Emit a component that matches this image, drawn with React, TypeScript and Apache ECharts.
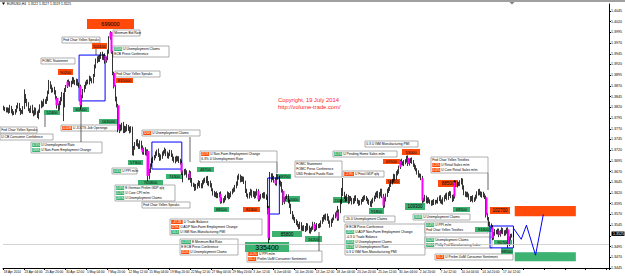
import React, { useEffect, useRef } from "react";
import * as echarts from "echarts";

// ---------- data (prices stored as last 4 digits of 1.xxxx, e.g. 3818 = 1.3818) ----------
const FIRST_OPEN = 3820;
const CLOSES: number[] = [
  3818, 3815, 3812,
  3815, 3810, 3820, 3812, 3805, 3808,
  3812, 3820, 3825, 3815, 3808, 3810,
  3820, 3845, 3835, 3828, 3815, 3812,
  3820, 3810, 3805, 3815, 3808, 3802,
  3812, 3822, 3830, 3825, 3835, 3832,
  3840, 3855, 3875, 3868, 3860, 3862,
  3855, 3842, 3825, 3818, 3830, 3840,
  3850, 3825, 3860, 3868, 3880, 3876,
  3872, 3878, 3885, 3880, 3876, 3882,
  3875, 3870, 3825, 3845, 3860, 3868,
  3875, 3880, 3878, 3888, 3885, 3882,
  3895, 3915, 3928, 3935, 3930, 3938,
  3945, 3935, 3940, 3928, 3935, 3950,
  3982, 3995, 3948, 3900, 3868, 3840,
  3825, 3768, 3775, 3770, 3780, 3765,
  3772, 3768, 3775, 3770, 3765, 3772,
  3712, 3725, 3735, 3740, 3732, 3728,
  3738, 3725, 3715, 3722, 3712, 3718,
  3660, 3672, 3685, 3695, 3700, 3705,
  3712, 3718, 3708, 3700, 3706, 3712,
  3716, 3720, 3712, 3705, 3710, 3715,
  3708, 3700, 3695, 3702, 3698, 3702,
  3695, 3690, 3668, 3665, 3672, 3668,
  3660, 3655, 3668, 3650, 3640, 3638,
  3630, 3635, 3640, 3645, 3638, 3635,
  3645, 3650, 3648, 3655, 3642, 3645,
  3638, 3628, 3620, 3615, 3618, 3612,
  3615, 3618, 3600, 3605, 3602, 3608,
  3612, 3618, 3610, 3615, 3620, 3625,
  3628, 3635, 3642, 3655, 3660, 3650,
  3655, 3652, 3645, 3625, 3615, 3612,
  3618, 3625, 3615, 3620, 3612, 3618,
  3625, 3605, 3610, 3615, 3612, 3618,
  3612, 3608, 3585, 3515, 3650, 3660,
  3655, 3650, 3642, 3660, 3655, 3645,
  3640, 3625, 3598, 3605, 3610, 3612,
  3600, 3590, 3575, 3565, 3560, 3555,
  3550, 3545, 3540, 3548, 3538, 3535,
  3540, 3535, 3545, 3538, 3530, 3535,
  3538, 3548, 3535, 3540, 3545, 3542,
  3545, 3552, 3558, 3565, 3562, 3568,
  3560, 3552, 3545, 3555, 3560, 3565,
  3570, 3575, 3560, 3578, 3600, 3625,
  3618, 3610, 3605, 3612, 3600, 3608,
  3605, 3598, 3602, 3610, 3605, 3600,
  3595, 3598, 3603, 3605, 3610, 3608,
  3605, 3600, 3598, 3592, 3600, 3605,
  3610, 3615, 3620, 3612, 3618, 3625,
  3612, 3590, 3605, 3615, 3625, 3630,
  3638, 3645, 3650, 3660, 3655, 3665,
  3670, 3680, 3695, 3690, 3688, 3692,
  3695, 3702, 3688, 3695, 3698, 3692,
  3685, 3680, 3675, 3668, 3662, 3660,
  3655, 3602, 3605, 3610, 3600, 3605,
  3602, 3598, 3595, 3600, 3597, 3600,
  3600, 3605, 3610, 3602, 3598, 3605,
  3610, 3615, 3608, 3618, 3620, 3612,
  3605, 3612, 3645, 3638, 3642, 3640,
  3645, 3650, 3632, 3620, 3615, 3618,
  3615, 3608, 3605, 3610, 3603, 3606,
  3612, 3618, 3625, 3620, 3615, 3618,
  3615, 3610, 3568, 3560, 3548, 3545,
  3540, 3515, 3525, 3530, 3528, 3532,
  3522, 3530, 3535, 3528, 3525, 3530,
  3535, 3500, 3515, 3520, 3522, 3525,
];
const WICK_UP: number[] = [
  4, 3, 5,
  5, 4, 6, 3, 4, 3,
  4, 5, 6, 5, 3, 4,
  3, 17, 6, 5, 4, 3,
  4, 6, 3, 5, 4, 3,
  3, 5, 6, 4, 5, 4,
  5, 4, 9, 6, 5, 4,
  6, 5, 4, 4, 5, 4,
  6, 4, 5, 4, 4, 5,
  5, 4, 6, 5, 4, 5,
  4, 3, 3, 4, 3, 4,
  5, 4, 5, 6, 4, 3,
  3, 5, 6, 4, 6, 5,
  4, 5, 4, 6, 3, 5,
  4, 3, 1, 4, 3, 4,
  5, 3, 6, 5, 4, 6,
  5, 4, 6, 4, 5, 4,
  3, 5, 4, 5, 6, 4,
  5, 4, 6, 4, 5, 4,
  4, 5, 4, 6, 5, 4,
  5, 3, 6, 5, 4, 5,
  4, 6, 3, 5, 4, 6,
  5, 4, 5, 3, 5, 4,
  4, 5, 6, 5, 4, 5,
  5, 4, 5, 3, 5, 4,
  4, 6, 4, 5, 3, 5,
  5, 4, 6, 4, 5, 3,
  4, 5, 3, 5, 4, 6,
  5, 4, 6, 5, 3, 5,
  4, 6, 4, 5, 4, 5,
  5, 4, 5, 6, 5, 3,
  5, 4, 6, 4, 5, 4,
  4, 5, 3, 5, 4, 6,
  5, 4, 5, 3, 5, 4,
  4, 5, 4, 5, 19, 6,
  6, 5, 6, 5, 4, 5,
  4, 6, 4, 5, 3, 5,
  5, 4, 5, 3, 5, 4,
  4, 5, 3, 5, 4, 6,
  5, 3, 5, 4, 6, 4,
  4, 5, 4, 6, 5, 3,
  5, 4, 6, 4, 5, 4,
  4, 6, 4, 5, 3, 5,
  5, 4, 15, 4, 5, 7,
  30, 5, 4, 6, 4, 5,
  5, 4, 6, 4, 5, 3,
  4, 5, 3, 6, 4, 5,
  5, 4, 5, 3, 5, 4,
  4, 6, 4, 5, 4, 5,
  5, 6, 5, 4, 5, 4,
  4, 5, 3, 5, 4, 6,
  5, 4, 3, 5, 4, 5,
  4, 5, 6, 5, 4, 5,
  5, 4, 5, 3, 5, 4,
  5, 5, 4, 6, 4, 5,
  5, 3, 5, 4, 6, 4,
  4, 5, 4, 5, 3, 5,
  5, 4, 6, 4, 5, 4,
  4, 5, 5, 4, 5, 4,
  5, 5, 4, 6, 4, 5,
  5, 4, 5, 3, 5, 4,
  4, 6, 4, 5, 4, 5,
  5, 4, 4, 5, 4, 5,
  4, 5, 4, 6, 4, 5,
  5, 4, 5, 3, 5, 4,
  4, 5, 4, 5, 3, 5,
];
const WICK_DN: number[] = [
  5, 4, 4,
  4, 5, 3, 6, 4, 3,
  5, 4, 3, 4, 6, 3,
  6, 4, 5, 6, 4, 5,
  5, 4, 6, 4, 5, 7,
  10, 5, 4, 5, 3, 4,
  4, 5, 4, 5, 6, 5,
  5, 4, 8, 6, 4, 5,
  6, 37, 5, 4, 3, 5,
  4, 5, 4, 5, 4, 5,
  5, 4, 10, 5, 4, 5,
  5, 4, 4, 5, 4, 6,
  6, 4, 4, 5, 4, 4,
  5, 4, 5, 6, 4, 5,
  5, 4, 3, 5, 4, 6,
  5, 6, 8, 6, 4, 5,
  5, 6, 4, 5, 6, 4,
  4, 5, 4, 5, 4, 5,
  5, 4, 5, 6, 4, 5,
  12, 8, 5, 4, 5, 4,
  4, 5, 4, 5, 4, 6,
  5, 4, 6, 4, 5, 4,
  4, 5, 4, 6, 5, 4,
  5, 4, 6, 20, 4, 5,
  4, 5, 4, 6, 5, 4,
  5, 4, 5, 4, 6, 4,
  4, 5, 4, 5, 4, 6,
  5, 4, 6, 4, 5, 4,
  4, 5, 5, 4, 6, 4,
  5, 4, 5, 4, 5, 3,
  4, 5, 4, 5, 4, 5,
  4, 6, 4, 5, 4, 5,
  5, 4, 6, 4, 5, 4,
  4, 5, 4, 5, 3, 5,
  5, 4, 5, 12, 5, 5,
  5, 6, 4, 5, 4, 5,
  5, 4, 6, 4, 5, 4,
  4, 5, 4, 6, 4, 5,
  5, 4, 5, 4, 6, 4,
  4, 6, 4, 5, 4, 5,
  5, 4, 5, 4, 6, 4,
  4, 5, 4, 5, 4, 6,
  5, 4, 6, 4, 5, 4,
  4, 5, 5, 4, 5, 6,
  5, 4, 5, 4, 6, 4,
  4, 5, 4, 6, 4, 5,
  5, 4, 5, 4, 5, 4,
  4, 5, 6, 4, 5, 4,
  5, 4, 5, 4, 5, 6,
  4, 5, 4, 5, 4, 5,
  5, 4, 5, 4, 6, 4,
  4, 5, 4, 5, 4, 5,
  5, 4, 5, 4, 5, 4,
  4, 5, 4, 5, 6, 4,
  5, 6, 4, 5, 4, 5,
  5, 4, 5, 4, 5, 4,
  4, 5, 4, 6, 4, 5,
  5, 4, 5, 4, 5, 4,
  6, 4, 5, 4, 5, 4,
  4, 5, 4, 5, 4, 5,
  5, 4, 6, 4, 5, 4,
  4, 5, 4, 5, 4, 6,
  5, 4, 5, 4, 6, 4,
  4, 5, 4, 5, 4, 5,
  5, 4, 5, 4, 5, 4,
  5, 8, 4, 5, 4, 5,
];
const SPIKE_BARS = [41, 49, 59, 78, 82, 83, 85, 88, 107, 111, 137, 143, 167, 196, 204, 209, 215, 239, 257, 292, 305, 311, 322, 347, 371, 376, 381, 388];
const X_LABELS = [
  "18 Apr 2014", "23 Apr 04:00", "25 Apr 20:00", "30 Apr 12:00", "5 May 04:00", "7 May 20:00",
  "12 May 12:00", "15 May 04:00", "19 May 20:00", "22 May 12:00", "27 May 04:00", "29 May 20:00",
  "3 Jun 12:00", "6 Jun 04:00", "10 Jun 20:00", "13 Jun 12:00", "18 Jun 04:00", "20 Jun 20:00",
  "25 Jun 12:00", "30 Jun 04:00", "2 Jul 20:00", "7 Jul 12:00", "10 Jul 04:00", "14 Jul 20:00",
  "17 Jul 12:00",
];
const Y_MIN = 1.3445;
const Y_MAX = 1.40612;
const Y_STEP = 0.0025;
const TOTAL_SLOTS = 466;
const FORECAST_BARS = [392, 398, 402, 409, 415];
const FORECAST_PRICES = [1.3538, 1.3512, 1.3545, 1.3475, 1.357];
const ZONE_FROM = [58, 114, 203, 374];
const ZONE_TO = [78, 137, 212, 392];
const ZONE_LOW = [1.3835, 1.3676, 1.3571, 1.3492];
const ZONE_HIGH = [1.3942, 1.3739, 1.3655, 1.3543];
const TARGET_FROM = 393;
const TARGET_TO = 440;
const TARGET_UP = [1.3566, 1.359];
const TARGET_DN = [1.3461, 1.3482];
const TARGET_LABELS = ["1.35700", "1.34750"];

// ---------- annotations (text content + layout) ----------
const FONT = "'Liberation Sans', Arial, sans-serif";
const ORANGE = "#ff4a0a";
const GREEN = "#3cb371";

type Tag = { t: string; k: "o" | "g"; x: number; y: number; w: number; h: number; fs: number };
const TAGS: Tag[] = [
  { t: "699000", k: "o", x: 87, y: 19, w: 47, h: 10, fs: 5.5 },
  { t: "501100", k: "o", x: 92, y: 43, w: 15, h: 6, fs: 4 },
  { t: "90200", k: "o", x: 58, y: 69, w: 15, h: 6, fs: 4 },
  { t: "835000", k: "o", x: 116, y: 78, w: 17, h: 5, fs: 4 },
  { t: "52400", k: "g", x: 44, y: 110, w: 16, h: 5, fs: 4 },
  { t: "60000", k: "g", x: 73, y: 107, w: 16, h: 5, fs: 4 },
  { t: "163000", k: "g", x: 99, y: 119, w: 19, h: 5, fs: 4 },
  { t: "57300", k: "g", x: 128, y: 160, w: 15, h: 5, fs: 4 },
  { t: "705800", k: "g", x: 138, y: 180, w: 25, h: 5, fs: 4 },
  { t: "74300", k: "g", x: 166, y: 174, w: 17, h: 5, fs: 4 },
  { t: "48700", k: "g", x: 197, y: 167, w: 17, h: 5, fs: 4 },
  { t: "88500", k: "g", x: 214, y: 207, w: 15, h: 5, fs: 4 },
  { t: "82400", k: "o", x: 243, y: 207, w: 17, h: 5, fs: 4 },
  { t: "335400", k: "g", x: 245, y: 242, w: 44, h: 10, fs: 7 },
  { t: "68700", k: "g", x: 278, y: 174, w: 13, h: 5, fs: 4 },
  { t: "60000", k: "g", x: 286, y: 196, w: 14, h: 6, fs: 4 },
  { t: "85800", k: "g", x: 272, y: 231, w: 30, h: 6, fs: 4.5 },
  { t: "16200", k: "g", x: 305, y: 236, w: 17, h: 6, fs: 4 },
  { t: "110200", k: "g", x: 333, y: 197, w: 15, h: 6, fs: 4 },
  { t: "91800", k: "g", x: 369, y: 208, w: 15, h: 6, fs: 4 },
  { t: "69100", k: "o", x: 383, y: 159, w: 17, h: 5, fs: 4 },
  { t: "56600", k: "o", x: 386, y: 179, w: 14, h: 5, fs: 4 },
  { t: "53000", k: "o", x: 402, y: 149, w: 18, h: 6, fs: 4 },
  { t: "109300", k: "g", x: 405, y: 203, w: 20, h: 7, fs: 4.5 },
  { t: "88500", k: "o", x: 438, y: 180, w: 20, h: 7, fs: 4.5 },
  { t: "68500", k: "g", x: 453, y: 207, w: 17, h: 5, fs: 4 },
  { t: "102700", k: "o", x: 490, y: 207, w: 20, h: 7, fs: 4.5 },
  { t: "91600", k: "g", x: 475, y: 227, w: 17, h: 5, fs: 4 },
  { t: "91700", k: "g", x: 494, y: 240, w: 18, h: 5, fs: 4 },
  { t: "88500", k: "g", x: 501, y: 248, w: 12, h: 6, fs: 4 },
];

type Line = [string | null, "o" | "g" | null, string];
type Note = { x: number; y: number; w: number; lines: Line[] };
const NOTES: Note[] = [
  { x: 62, y: 37, w: 38, lines: [[null, null, "Fed Chair Yellen Speaks"]] },
  { x: 113, y: 30, w: 27, lines: [[null, null, "Minimum Bid Rate"]] },
  { x: 113, y: 46, w: 56, lines: [["326K", "g", "U Unemployment Claims"], [null, null, "ECB Press Conference"]] },
  { x: 41, y: 58, w: 34, lines: [[null, null, "FOMC Statement"]] },
  { x: 115, y: 71, w: 45, lines: [[null, null, "Fed Chair Yellen Speaks"]] },
  { x: 61, y: 125, w: 57, lines: [["4.01M", "o", "U JOLTS Job Openings"]] },
  { x: 0, y: 127, w: 37, lines: [[null, null, "Fed Chair Yellen Speaks"]] },
  { x: 0, y: 134, w: 53, lines: [[null, null, "U CB Consumer Confidence"]] },
  { x: 142, y: 130, w: 58, lines: [["326K", "o", "U Unemployment Claims"]] },
  { x: 31, y: 142, w: 71, lines: [["6.3%", "g", "U Unemployment Rate"], ["288K", "g", "U Non-Farm Employment Change"]] },
  { x: 112, y: 168, w: 25, lines: [["0.6%", "g", "U PPI m/m"]] },
  { x: 115, y: 185, w: 60, lines: [["0.8%", "g", "E German Prelim GDP q/q"], ["0.2%", "g", "U Core CPI m/m"], ["297K", "g", "U Unemployment Claims"]] },
  { x: 142, y: 202, w: 48, lines: [[null, null, "Fed Chair Yellen Speaks"]] },
  { x: 170, y: 219, w: 92, lines: [["-47.2B", "o", "U Trade Balance"], ["179K", "o", "U ADP Non-Farm Employment Change"], ["56.3", "g", "U ISM Non-Manufacturing PMI"]] },
  { x: 180, y: 239, w: 58, lines: [["0.15%", "g", "E Minimum Bid Rate"], [null, null, "E ECB Press Conference"], ["312K", "o", "U Unemployment Claims"]] },
  { x: 200, y: 151, w: 77, lines: [["217K", "o", "U Non-Farm Employment Change"], [null, null, "6.3% U Unemployment Rate"]] },
  { x: 247, y: 251, w: 75, lines: [["-0.2%", "o", "U PPI m/m"], ["81.2", "o", "Prelim UoM Consumer Sentiment"]] },
  { x: 295, y: 161, w: 47, lines: [[null, null, "FOMC Statement"], [null, null, "FOMC Press Conference"], [null, null, "USD Federal Funds Rate"]] },
  { x: 333, y: 151, w: 64, lines: [["6.1%", "g", "U Pending Home Sales m/m"]] },
  { x: 365, y: 141, w: 53, lines: [[null, null, "0.3 U ISM Manufacturing PMI"]] },
  { x: 343, y: 171, w: 41, lines: [["-2.9%", "o", "U Final GDP q/q"]] },
  { x: 344, y: 216, w: 51, lines: [[null, null, "-2k U Unemployment Claims"]] },
  { x: 345, y: 224, w: 80, lines: [[null, null, "E ECB Press Conference"], ["281K", "g", "U ADP Non-Farm Employment Change"], [null, null, "-0.3 U Trade Balance"], ["315K", "g", "U Unemployment Claims"], ["6.1%", "g", "U Unemployment Rate"], [null, null, "0.3 U ISM Non-Manufacturing PMI"]] },
  { x: 431, y: 157, w: 57, lines: [[null, null, "Fed Chair Yellen Testifies"], ["0.2%", "o", "U Retail Sales m/m"], ["0.4%", "o", "U Core Retail Sales m/m"]] },
  { x: 413, y: 214, w: 57, lines: [["304K", "g", "U Unemployment Claims"]] },
  { x: 425, y: 222, w: 63, lines: [["0.4%", "g", "U PPI m/m"], [null, null, "Fed Chair Yellen Testifies"]] },
  { x: 425, y: 237, w: 67, lines: [["302K", "g", "Unemployment Claims"], ["23.9", "g", "Philly Fed Manufacturing Index"]] },
  { x: 435, y: 254, w: 78, lines: [["81.3", "o", "U Prelim UoM Consumer Sentiment"]] },
];
const CONNECTORS: number[][] = [
  [45, 115, 45, 127], [81, 112, 81, 142], [190, 137, 190, 162], [277, 162, 277, 173],
  [319, 232, 319, 251], [488, 173, 488, 190], [96, 49, 96, 55],
];

function buildGraphics(lastY: number, lastText: string): any[] {
  const g: any[] = [];
  g.push({ type: "rect", shape: { x: 0, y: 0, width: 625, height: 2 }, style: { fill: "#a0a0a0" } });
  g.push({ type: "polygon", shape: { points: [[2, 2.5], [5, 2.5], [3.5, 5]] }, style: { fill: "#000" } });
  g.push({
    type: "text", x: 7, y: 2.3,
    style: { text: "EURUSD,H4  1.3522 1.3527 1.3519 1.3525", fontSize: 3.3, fontFamily: FONT, fill: "#000", verticalAlign: "top" },
  });
  g.push({ type: "polygon", shape: { points: [[509.5, 2], [514.5, 2], [512, 4.5]] }, style: { fill: "#808080" } });
  for (const c of CONNECTORS) {
    g.push({ type: "line", shape: { x1: c[0], y1: c[1], x2: c[2], y2: c[3] }, style: { stroke: "#222", lineWidth: 0.7 }, z: 5 });
  }
  for (const n of NOTES) {
    const h = n.lines.length * 5 + 1;
    const children: any[] = [
      { type: "rect", shape: { x: n.x, y: n.y, width: n.w, height: h }, style: { fill: "#fff", stroke: "#8c8c8c", lineWidth: 0.7 } },
    ];
    n.lines.forEach((ln, i) => {
      let tx = n.x + 1.2;
      const ly = n.y + 0.8 + i * 5;
      if (ln[0]) {
        const bw = ln[0].length * 1.75 + 1;
        children.push({ type: "rect", shape: { x: tx, y: ly + 0.2, width: bw, height: 4 }, style: { fill: ln[1] === "o" ? ORANGE : GREEN } });
        children.push({ type: "text", x: tx + bw / 2, y: ly + 2.3, style: { text: ln[0], fontSize: 3, fontFamily: FONT, fill: "#fff", align: "center", verticalAlign: "middle" } });
        tx += bw + 1;
      }
      children.push({ type: "text", x: tx, y: ly + 2.3, style: { text: ln[2], fontSize: 3.3, fontFamily: FONT, fill: "#000", align: "left", verticalAlign: "middle" } });
    });
    g.push({ type: "group", z: 6, children });
  }
  for (const t of TAGS) {
    g.push({
      type: "group", z: 7,
      children: [
        { type: "rect", shape: { x: t.x, y: t.y, width: t.w, height: t.h }, style: { fill: t.k === "o" ? ORANGE : GREEN } },
        { type: "text", x: t.x + t.w / 2, y: t.y + t.h / 2 + 0.2, style: { text: t.t, fontSize: t.fs, fontFamily: FONT, fill: "#000", align: "center", verticalAlign: "middle" } },
      ],
    });
  }
  // copyright
  g.push({ type: "text", x: 278, y: 96.5, style: { text: "Copyright, 19 July 2014", fontSize: 5.8, fontFamily: FONT, fill: "#ff2020", verticalAlign: "top" } });
  g.push({ type: "text", x: 278, y: 103.5, style: { text: "http://volume-trade.com/", fontSize: 5.8, fontFamily: FONT, fill: "#ff2020", verticalAlign: "top" } });
  // target labels
  g.push({
    type: "group", z: 8,
    children: [
      { type: "rect", shape: { x: 547, y: 208, width: 20, height: 7 }, style: { fill: ORANGE, stroke: "#3a1000", lineWidth: 0.6 } },
      { type: "text", x: 557, y: 211.7, style: { text: TARGET_LABELS[0], fontSize: 4.5, fontFamily: FONT, fill: "#000", align: "center", verticalAlign: "middle" } },
      { type: "rect", shape: { x: 536, y: 253, width: 22, height: 7 }, style: { fill: GREEN, stroke: "#0a3a1a", lineWidth: 0.6 } },
      { type: "text", x: 547, y: 256.7, style: { text: TARGET_LABELS[1], fontSize: 4.5, fontFamily: FONT, fill: "#000", align: "center", verticalAlign: "middle" } },
    ],
  });
  // current price box on the price scale
  g.push({
    type: "group", z: 10,
    children: [
      { type: "rect", shape: { x: 611.5, y: lastY - 2.2, width: 13, height: 4.4 }, style: { fill: "#000" } },
      { type: "text", x: 613, y: lastY, style: { text: lastText, fontSize: 3.6, fontFamily: FONT, fill: "#fff", align: "left", verticalAlign: "middle" } },
    ],
  });
  return g;
}

export default function App() {
  const ref = useRef<HTMLDivElement>(null);
  useEffect(() => {
    if (!ref.current) return;
    const chart = echarts.init(ref.current, null, { renderer: "svg" });
    const px = (v: number) => +(1 + v / 10000).toFixed(4);
    const cats = Array.from({ length: TOTAL_SLOTS }, (_, i) => String(i));
    const ohlc = CLOSES.map((c, i) => {
      const o = i === 0 ? FIRST_OPEN : CLOSES[i - 1];
      return [px(o), px(c), px(Math.min(o, c) - WICK_DN[i]), px(Math.max(o, c) + WICK_UP[i])];
    });
    const spikeSet = new Set(SPIKE_BARS);
    const spikes = ohlc.map((d, i) =>
      spikeSet.has(i) ? [d[0], d[1], Math.min(d[0], d[1]), Math.max(d[0], d[1])] : ["-", "-", "-", "-"]
    );
    const last = ohlc[ohlc.length - 1][1];
    const zoneAreas = ZONE_FROM.map((f, i) => [
      { xAxis: String(f), yAxis: ZONE_LOW[i] },
      { xAxis: String(ZONE_TO[i]), yAxis: ZONE_HIGH[i] },
    ]);
    const option: any = {
      animation: false,
      backgroundColor: "#ffffff",
      grid: { left: 3, right: 14, top: 4, bottom: 8 },
      xAxis: {
        type: "category",
        data: cats,
        boundaryGap: true,
        axisLine: { lineStyle: { color: "#000", width: 1 } },
        axisTick: { show: true, length: 2, interval: (i: number) => i % 16 === 0, lineStyle: { color: "#000" } },
        axisLabel: {
          interval: (i: number) => i % 16 === 0 && i / 16 < X_LABELS.length,
          formatter: (_v: string, i: number) => X_LABELS[i / 16] ?? "",
          fontSize: 3.2, color: "#000", fontFamily: FONT, align: "left", margin: 2,
        },
        splitLine: { show: false },
      },
      yAxis: {
        type: "value",
        position: "right",
        min: Y_MIN,
        max: Y_MAX,
        interval: Y_STEP,
        axisLine: { show: true, lineStyle: { color: "#000" } },
        axisTick: { show: true, length: 2, lineStyle: { color: "#000" } },
        axisLabel: {
          fontSize: 3.6, color: "#000", margin: 2, fontFamily: FONT, showMaxLabel: false,
          formatter: (v: number) => (Math.abs(v - last) < 0.0009 ? "" : v.toFixed(4)),
        },
        splitLine: { show: false },
      },
      series: [
        {
          type: "candlestick",
          name: "EURUSD",
          data: ohlc,
          barWidth: 1,
          z: 3,
          itemStyle: { color: "#ffffff", color0: "#000000", borderColor: "#000000", borderColor0: "#000000", borderWidth: 0.8 },
          markLine: {
            silent: true,
            symbol: ["none", "none"],
            lineStyle: { color: "#c8c8c8", type: "solid", width: 0.8 },
            label: { show: false },
            data: [{ yAxis: last }],
          },
          markArea: {
            silent: true,
            itemStyle: { color: "rgba(0,0,0,0)", borderColor: "#0000ff", borderWidth: 1 },
            data: zoneAreas,
          },
        },
        {
          type: "candlestick",
          name: "spike",
          data: spikes,
          barWidth: 2.6,
          z: 4,
          itemStyle: { color: "#ff00ff", color0: "#ff00ff", borderColor: "#ff00ff", borderColor0: "#ff00ff", borderWidth: 0 },
        },
        {
          type: "line",
          name: "targets",
          data: [],
          z: 1,
          markArea: {
            silent: true,
            data: [
              [{ xAxis: String(TARGET_FROM), yAxis: TARGET_UP[0], itemStyle: { color: ORANGE, opacity: 1 } }, { xAxis: String(TARGET_TO), yAxis: TARGET_UP[1] }],
              [{ xAxis: String(TARGET_FROM), yAxis: TARGET_DN[0], itemStyle: { color: GREEN, opacity: 1 } }, { xAxis: String(TARGET_TO), yAxis: TARGET_DN[1] }],
            ],
          },
        },
        {
          type: "line",
          name: "forecast",
          data: FORECAST_BARS.map((b, i) => [String(b), FORECAST_PRICES[i]]),
          symbol: "none",
          z: 9,
          lineStyle: { color: "#0000ff", width: 1 },
        },
      ],
    };
    chart.setOption(option);
    const lastY = chart.convertToPixel({ yAxisIndex: 0 }, last) as number;
    chart.setOption({ graphic: buildGraphics(lastY, last.toFixed(4)) });
    return () => chart.dispose();
  }, []);
  return (
    <div style={{ position: "fixed", left: 0, top: 0, width: 625, height: 276, background: "#fff" }}>
      <div ref={ref} style={{ width: 625, height: 276 }} />
    </div>
  );
}
